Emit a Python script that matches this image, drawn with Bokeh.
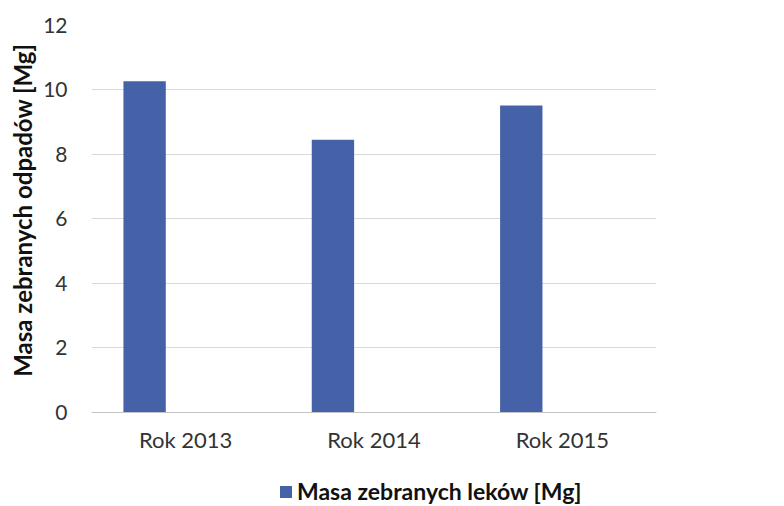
from bokeh.plotting import figure
from bokeh.models import (FactorRange, Range1d, FixedTicker, Legend, LegendItem,
                          ColumnDataSource, Title)
from bokeh.transform import dodge
from bokeh.embed import file_html
from bokeh.resources import INLINE

years = ["Rok 2013", "Rok 2014", "Rok 2015"]
values = [10.27, 8.46, 9.52]
series_name = "Masa zebranych leków [Mg]"
y_title = "Masa zebranych odpadów [Mg]"
y_ticks = [0, 2, 4, 6, 8, 10, 12]

FONT = "Lato"
BAR = "#4562a8"

src = ColumnDataSource(data=dict(year=years, value=values))

# frame extends below the value axis so the legend can sit inside it
p = figure(x_range=FactorRange(*years, range_padding=0), y_range=Range1d(-2.915, 12),
           frame_width=565, frame_height=481, output_backend="svg", toolbar_location=None,
           min_border_left=91, min_border_right=120, min_border_top=25, min_border_bottom=0)
p.outline_line_color = None
p.background_fill_color = "white"
p.border_fill_color = "white"

r = p.vbar(x=dodge("year", -0.218, range=p.x_range), top="value", width=0.225,
           source=src, fill_color=BAR, line_color=None)

p.xgrid.grid_line_color = None
p.ygrid.grid_line_color = "#d9d9d9"
p.ygrid.grid_line_width = 1
p.yaxis.ticker = FixedTicker(ticks=y_ticks)

p.yaxis.axis_line_color = None
p.yaxis.major_tick_line_color = None
p.yaxis.minor_tick_line_color = None
p.yaxis.major_tick_out = 0
p.yaxis.major_label_standoff = 24
p.yaxis.major_label_text_font = FONT
p.yaxis.major_label_text_font_size = "21px"
p.yaxis.major_label_text_color = "#333333"

p.xaxis.fixed_location = 0
p.xaxis.axis_line_color = "#c4c4c4"
p.xaxis.major_tick_line_color = None
p.xaxis.minor_tick_line_color = None
p.xaxis.major_tick_out = 0
p.xaxis.major_tick_in = 0
p.xaxis.major_label_standoff = 14
p.xaxis.major_label_text_font = FONT
p.xaxis.major_label_text_font_size = "22px"
p.xaxis.major_label_text_color = "#333333"

ytitle = Title(text=y_title, align="right", offset=18, standoff=8,
               text_font=FONT, text_font_style="bold", text_font_size="24px",
               text_color="#111111")
p.add_layout(ytitle, "left")

legend = Legend(items=[LegendItem(label=series_name, renderers=[r])],
                location=(187, 1), orientation="horizontal",
                border_line_color=None, background_fill_alpha=0,
                padding=0, margin=0, spacing=0,
                glyph_width=15, glyph_height=15, label_standoff=4,
                label_text_font=FONT, label_text_font_style="bold",
                label_text_font_size="23px", label_text_color="#111111")
p.add_layout(legend, "center")

open("out.html", "w").write(file_html(p, INLINE))
